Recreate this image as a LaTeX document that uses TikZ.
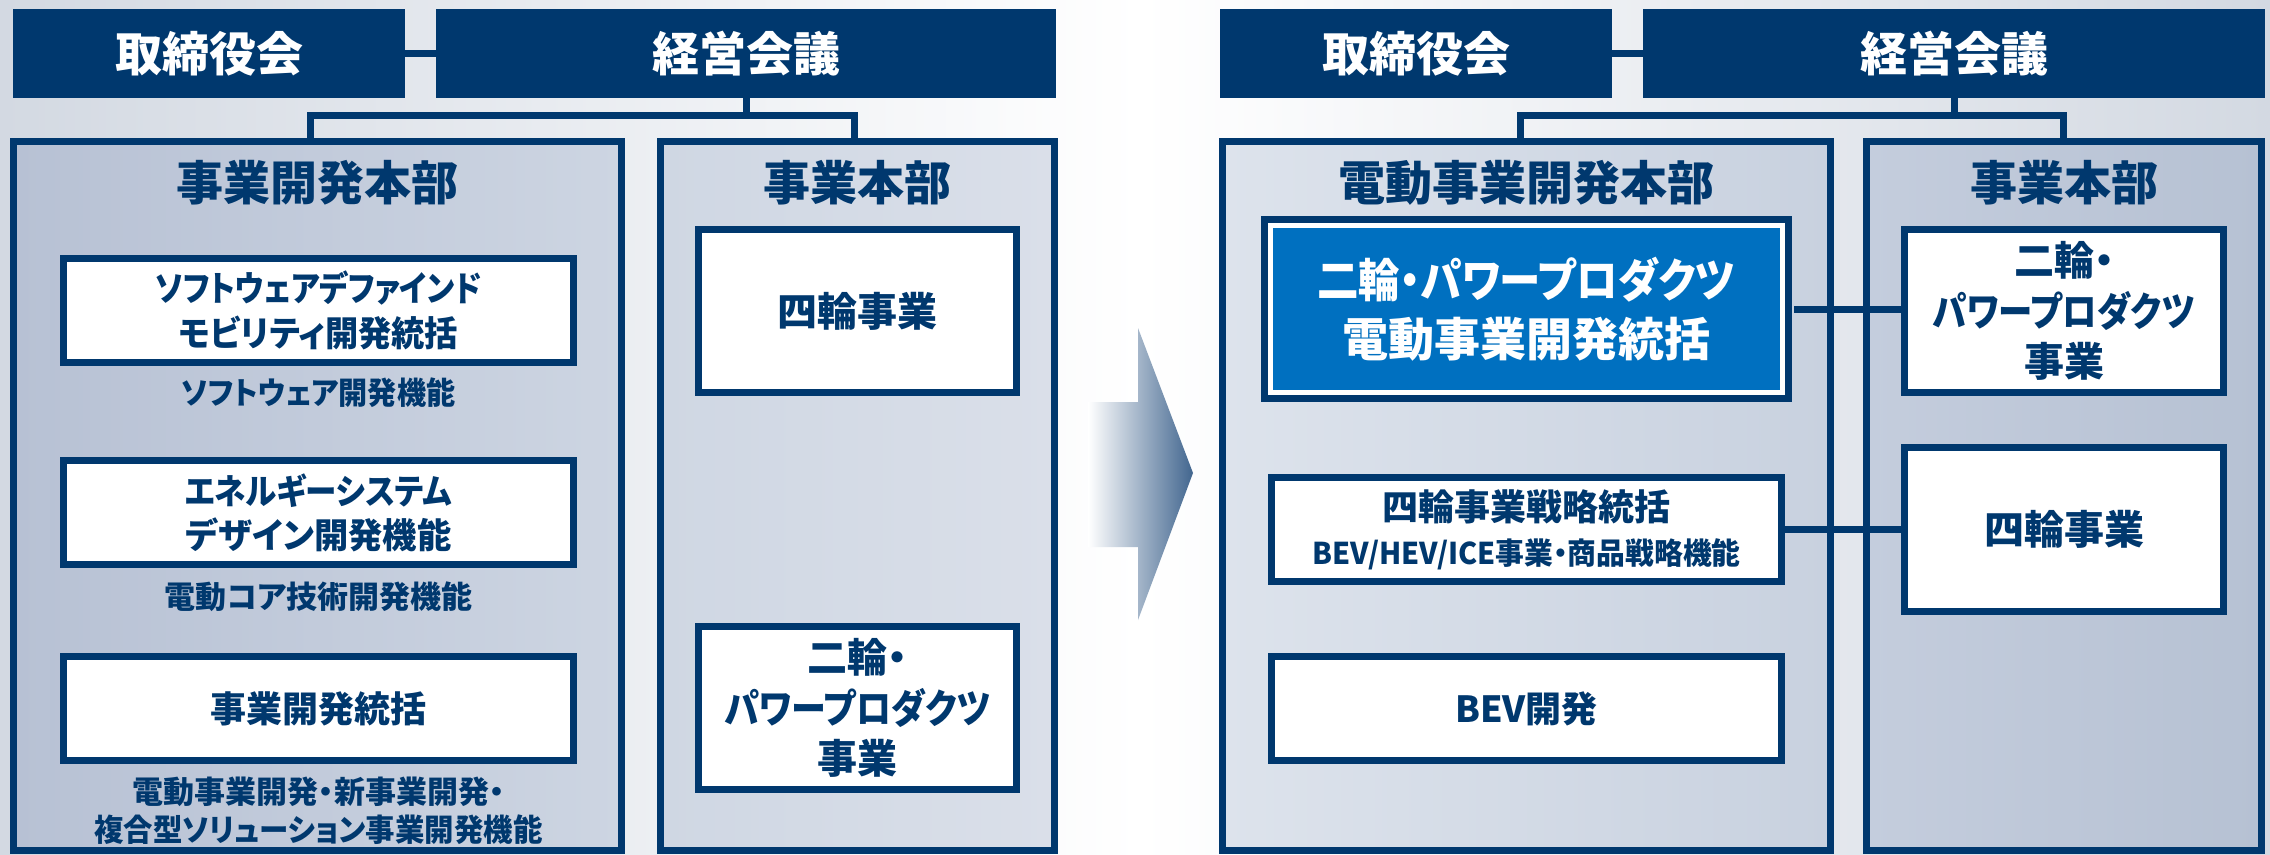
\documentclass[tikz,border=0pt]{standalone}
\usepackage{graphicx}
\usepackage{fontspec}
\setmainfont{Noto Sans CJK JP}[RawFeature=+palt]
\usetikzlibrary{calc}
\definecolor{navy}{RGB}{0,56,110}
\definecolor{bluebox}{RGB}{0,112,192}
\definecolor{bgside}{RGB}{211,217,226}
\definecolor{arrowblue}{RGB}{66,102,143}
\newcommand{\cnd}[2]{\scalebox{#1}[1]{#2}}
\begin{document}
\begin{tikzpicture}[x=1pt,y=-1pt,
  topbox/.style={fill=navy,text=white,inner sep=0pt,minimum height=89pt,
    font=\fontsize{47}{56}\selectfont\bfseries},
  panel/.style={draw=navy,line width=7pt,inner sep=0pt,minimum height=709pt},
  ptitle/.style={text=navy,inner sep=0pt,font=\fontsize{47}{56}\selectfont\bfseries},
  inbox/.style={draw=navy,fill=white,line width=7pt,text=navy,align=center,inner sep=0pt},
  lbl/.style={text=navy,align=center,inner sep=0pt,font=\fontsize{31}{38}\selectfont\bfseries},
  conn/.style={draw=navy,line width=7pt,line cap=rect}
]
\useasboundingbox (0,0) rectangle (2270,854);
% background
\shade[left color=bgside,right color=white] (0,0) rectangle (1140,854);
\shade[left color=white,right color=bgside] (1140,0) rectangle (2270,854);

% ================= LEFT (before) =================
\node[topbox,minimum width=392pt] (A1) at (209,53.5) {取締役会};
\node[topbox,minimum width=620pt] (A2) at (746,53.5) {経営会議};
\node[panel,minimum width=608pt,left color={rgb,255:red,183;green,193;blue,212},right color={rgb,255:red,205;green,213;blue,226}] (P1) at (317.5,496) {};
\node[panel,minimum width=394pt,left color={rgb,255:red,207;green,215;blue,227},right color={rgb,255:red,218;green,223;blue,233}] (P2) at (857.5,496) {};
\coordinate (hL1) at (310.5,115.5);
\coordinate (hL2) at (854.5,115.5);
\draw[conn] (A1.east) -- (A2.west);
\draw[conn] (A2.south) -- (A2.south |- hL1);
\draw[conn] (P1.north -| hL1) -- (hL1) -- (hL2) -- (P2.north -| hL2);

\node[ptitle] (T1) at ([yshift=-45pt]P1.north) {事業開発本部};
\node[ptitle] (T2) at ([yshift=-45pt]P2.north) {事業本部};

\node[inbox,minimum width=510pt,minimum height=104pt,font=\fontsize{35}{45}\selectfont\bfseries] (L1) at (318.5,310.5) {\cnd{0.87}{ソフトウェアデファインド}\\\cnd{0.95}{モビリティ開発統括}};
\node[lbl] (S1) at (318.5,393) {\cnd{0.94}{ソフトウェア開発機能}};
\node[inbox,minimum width=510pt,minimum height=104pt,font=\fontsize{35}{44}\selectfont\bfseries] (L2) at (318.5,512.5) {\cnd{0.9}{エネルギーシステム}\\\cnd{0.98}{デザイン開発機能}};
\node[lbl] (S2) at (318.5,597) {電動コア技術開発機能};
\node[inbox,minimum width=510pt,minimum height=104pt,font=\fontsize{36}{44}\selectfont\bfseries] (L3) at (318.5,708.5) {事業開発統括};
\node[lbl] (S3) at (318.5,811) {電動事業開発・新事業開発・\\\cnd{0.95}{複合型ソリューション事業開発機能}};

\node[inbox,minimum width=318pt,minimum height=163pt,font=\fontsize{40}{50}\selectfont\bfseries] (R1) at (857.5,311) {四輪事業};
\node[inbox,minimum width=318pt,minimum height=163pt,font=\fontsize{40}{50.5}\selectfont\bfseries] (R2) at (857.5,708) {二輪・\\\cnd{0.875}{パワープロダクツ}\\事業};

% ================= ARROW =================
\shade[left color=white,right color=arrowblue] (1088,402) -- (1138,402) -- (1138,328) -- (1193,473) -- (1138,620) -- (1138,547) -- (1088,547) -- cycle;

% ================= RIGHT (after) =================
\node[topbox,minimum width=392pt] (B1) at (1416,53.5) {取締役会};
\node[topbox,minimum width=622pt] (B2) at (1954,53.5) {経営会議};
\node[panel,minimum width=608pt,left color={rgb,255:red,221;green,227;blue,236},right color={rgb,255:red,200;green,209;blue,223}] (P3) at (1526.5,496) {};
\node[panel,minimum width=395pt,left color={rgb,255:red,196;green,205;blue,221},right color={rgb,255:red,182;green,193;blue,211}] (P4) at (2064,496) {};
\coordinate (hR1) at (1520.5,115.5);
\coordinate (hR2) at (2063.5,115.5);
\draw[conn] (B1.east) -- (B2.west);
\draw[conn] (B2.south) -- (B2.south |- hR1);
\draw[conn] (P3.north -| hR1) -- (hR1) -- (hR2) -- (P4.north -| hR2);

\node[ptitle] (T3) at ([yshift=-45pt]P3.north) {電動事業開発本部};
\node[ptitle] (T4) at ([yshift=-45pt]P4.north) {事業本部};

\node[fill=bluebox,draw=white,line width=5pt,preaction={draw=navy,line width=19pt},
  minimum width=512pt,minimum height=167pt,inner sep=0pt,text=white,align=center,
  font=\fontsize{46}{59}\selectfont\bfseries] (C1) at (1526.5,309) {\cnd{0.9}{二輪・パワープロダクツ}\\電動事業開発統括};
\node[inbox,minimum width=510pt,minimum height=104pt,font=\fontsize{36}{44}\selectfont\bfseries] (C2) at (1526.5,529.5) {四輪事業戦略統括\\{\fontsize{30}{36}\selectfont\cnd{0.96}{BEV/HEV/ICE事業・商品戦略機能}}};
\node[inbox,minimum width=510pt,minimum height=104pt,font=\fontsize{36}{44}\selectfont\bfseries] (C3) at (1526.5,708.5) {BEV開発};

\node[inbox,minimum width=319pt,minimum height=163pt,font=\fontsize{40}{50.5}\selectfont\bfseries] (D1) at (2064,311) {二輪・\\\cnd{0.86}{パワープロダクツ}\\事業};
\node[inbox,minimum width=319pt,minimum height=164pt,font=\fontsize{40}{50}\selectfont\bfseries] (D2) at (2064,529.5) {四輪事業};

\draw[conn,line cap=butt] ([xshift=9pt]C1.east) -- (C1.east -| D1.west);
\draw[conn,line cap=butt] (C2.east) -- (C2.east -| D2.west);
\end{tikzpicture}
\end{document}
